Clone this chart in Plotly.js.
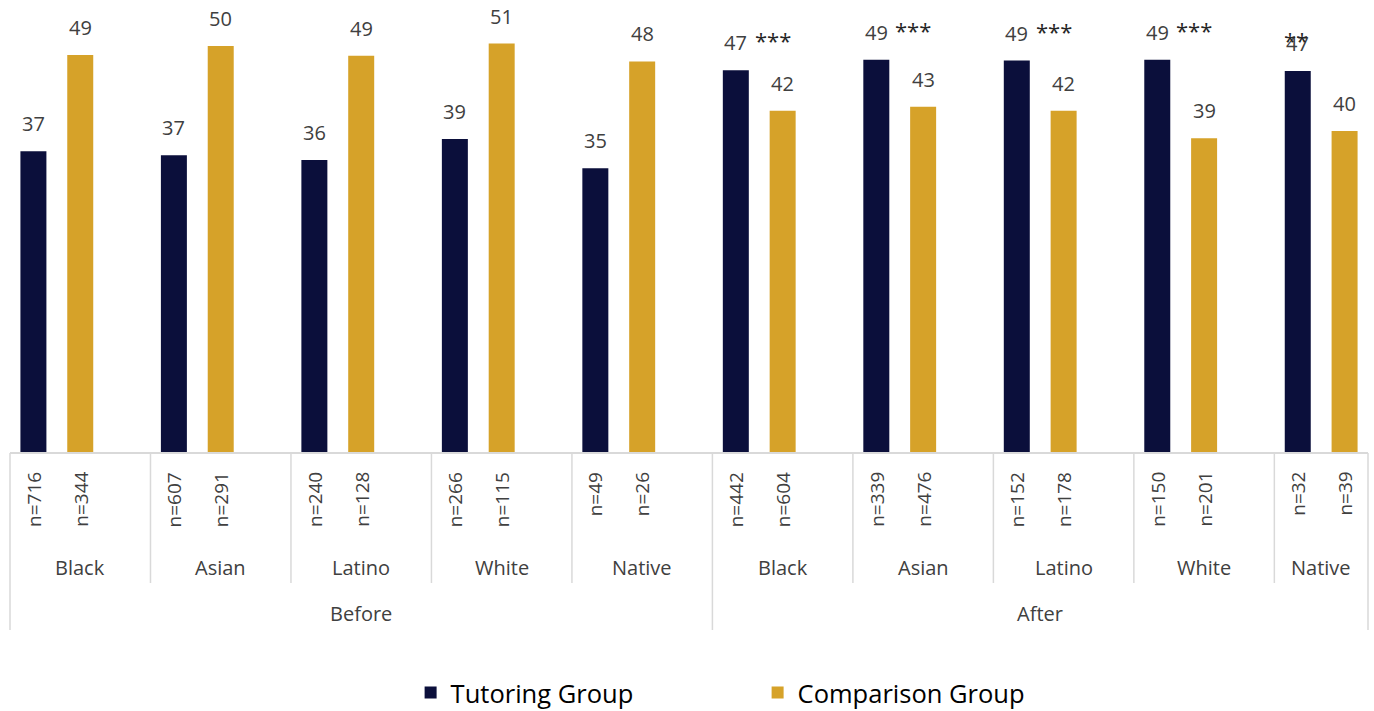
<!DOCTYPE html>
<html>
<head>
<meta charset="utf-8">
<script src="https://cdn.plot.ly/plotly-3.0.1.min.js"></script>
<style>html,body{margin:0;padding:0;background:#fff;}#chart{width:1374px;height:711px;}</style>
</head>
<body>
<div id="chart"></div>
<script>
// ---- data ----
const periods = ['Before', 'After'];
const groups = ['Black', 'Asian', 'Latino', 'White', 'Native', 'Black', 'Asian', 'Latino', 'White', 'Native'];
const groupPeriod = ['Before', 'Before', 'Before', 'Before', 'Before', 'After', 'After', 'After', 'After', 'After'];
const tutoring = [37.3, 36.8, 36.2, 38.8, 35.2, 47.3, 48.6, 48.5, 48.6, 47.2];
const comparison = [49.2, 50.3, 49.1, 50.6, 48.4, 42.3, 42.8, 42.3, 38.9, 39.8];
const tutoringN = ['n=716', 'n=607', 'n=240', 'n=266', 'n=49', 'n=442', 'n=339', 'n=152', 'n=150', 'n=32'];
const comparisonN = ['n=344', 'n=291', 'n=128', 'n=115', 'n=26', 'n=604', 'n=476', 'n=178', 'n=201', 'n=39'];
const significance = ['', '', '', '', '', '***', '***', '***', '***', '**'];
const seriesNames = ['Tutoring Group', 'Comparison Group'];

// ---- layout helpers ----
const SLOT = 3;                        // units per group (2 bars + gap)
const XMAX = groups.length * SLOT - 1; // visible axis ends one unit early
const tutX = groups.map((g, i) => i * SLOT + 0.5);
const cmpX = groups.map((g, i) => i * SLOT + 1.5);
const toPaper = u => u / XMAX;
const FONT = '"Open Sans", "Noto Sans", sans-serif';
const TXT = '#404040';
const GRID = '#d9d9d9';
const C_TUT = '#0b0f3b';
const C_CMP = '#d6a229';
const PLOT_H = 445;

const traces = [
  {type: 'bar', name: seriesNames[0], x: tutX, y: tutoring, width: 0.555,
   marker: {color: C_TUT}, hoverinfo: 'y'},
  {type: 'bar', name: seriesNames[1], x: cmpX, y: comparison, width: 0.555,
   marker: {color: C_CMP}, hoverinfo: 'y'}
];

const annotations = [];
const shapes = [];

groups.forEach((g, i) => {
  // value labels
  [[tutX[i], tutoring[i]], [cmpX[i], comparison[i]]].forEach(([x, v]) => {
    annotations.push({xref: 'x', yref: 'y', x: x, y: v, text: String(Math.round(v)),
      showarrow: false, xanchor: 'center', yanchor: 'bottom', yshift: 12,
      font: {family: FONT, size: 20, color: TXT}});
  });
  // significance markers
  if (significance[i]) {
    const last = i === groups.length - 1;
    annotations.push({xref: 'x', yref: 'y', x: tutX[i], y: tutoring[i], text: significance[i],
      showarrow: false, yanchor: 'bottom', yshift: last ? 14 : 13,
      xanchor: last ? 'center' : 'left', xshift: last ? -2 : 17,
      font: {family: FONT, size: 22, color: '#262626'}});
  }
  // n labels
  [[tutX[i], tutoringN[i]], [cmpX[i], comparisonN[i]]].forEach(([x, t]) => {
    annotations.push({xref: 'x', yref: 'paper', x: x, y: 0, text: t, textangle: -90,
      showarrow: false, xanchor: 'center', yanchor: 'top', yshift: -17,
      font: {family: FONT, size: 19, color: TXT}});
  });
  // group label
  const start = i * SLOT, end = Math.min(i * SLOT + SLOT, XMAX);
  annotations.push({xref: 'paper', yref: 'paper', x: toPaper((start + end) / 2), y: 0, text: g,
    showarrow: false, xanchor: 'center', yanchor: 'middle', yshift: -114,
    font: {family: FONT, size: 20, color: TXT}});
  if (i > 0) {
    shapes.push({type: 'line', xref: 'paper', yref: 'paper', x0: toPaper(start), x1: toPaper(start),
      y0: 0, y1: groupPeriod[i] !== groupPeriod[i - 1] ? -177 / PLOT_H : -130 / PLOT_H,
      line: {color: GRID, width: 1.5}});
  }
});

// period labels
periods.forEach(p => {
  const idx = groups.map((g, i) => i).filter(i => groupPeriod[i] === p);
  const start = idx[0] * SLOT, end = Math.min((idx[idx.length - 1] + 1) * SLOT, XMAX);
  annotations.push({xref: 'paper', yref: 'paper', x: toPaper((start + end) / 2), y: 0, text: p,
    showarrow: false, xanchor: 'center', yanchor: 'middle', yshift: -160,
    font: {family: FONT, size: 20, color: TXT}});
});
// outer edges
[0, XMAX].forEach(u => shapes.push({type: 'line', xref: 'paper', yref: 'paper',
  x0: toPaper(u), x1: toPaper(u), y0: 0, y1: -177 / PLOT_H, line: {color: GRID, width: 1.5}}));
// axis line
shapes.push({type: 'line', xref: 'paper', yref: 'paper', x0: 0, x1: 1, y0: 0, y1: 0,
  line: {color: GRID, width: 2}});

const layout = {
  width: 1374, height: 711,
  margin: {l: 10, r: 6, t: 8, b: 258},
  paper_bgcolor: '#fff', plot_bgcolor: '#fff',
  barmode: 'overlay',
  showlegend: true,
  legend: {orientation: 'h', xref: 'paper', x: 0.295, xanchor: 'left',
    yref: 'container', y: 18 / 711, yanchor: 'middle',
    font: {family: FONT, size: 25.5, color: '#000'}, entrywidth: 302, entrywidthmode: 'pixels',
    traceorder: 'normal'},
  xaxis: {range: [0, XMAX], showgrid: false, zeroline: false, showticklabels: false,
    ticks: '', showline: false, fixedrange: true},
  yaxis: {range: [0, 55], showgrid: false, zeroline: false, showticklabels: false,
    ticks: '', showline: false, fixedrange: true},
  annotations: annotations,
  shapes: shapes,
  font: {family: FONT, color: TXT}
};

Plotly.newPlot('chart', traces, layout, {displayModeBar: false, staticPlot: true});
</script>
</body>
</html>
